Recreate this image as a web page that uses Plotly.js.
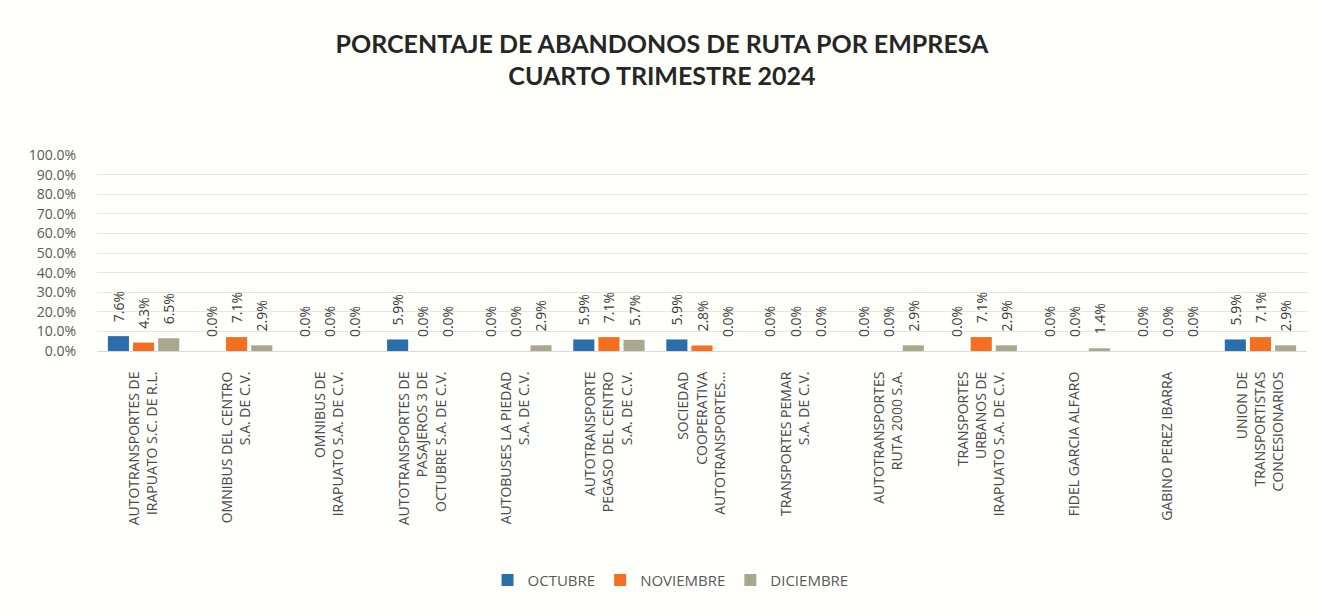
<!DOCTYPE html>
<html>
<head>
<meta charset="utf-8">
<script src="https://cdn.plot.ly/plotly-3.0.1.min.js"></script>
<style>
html,body{margin:0;padding:0;background:#fffffc;}
#chart{width:1324px;height:616px;}
</style>
</head>
<body>
<div id="chart"></div>
<script>
// Categories (companies) and tick labels
const categories = [
  "AUTOTRANSPORTES DE IRAPUATO S.C. DE R.L.",
  "OMNIBUS DEL CENTRO S.A. DE C.V.",
  "OMNIBUS DE IRAPUATO S.A. DE C.V.",
  "AUTOTRANSPORTES DE PASAJEROS 3 DE OCTUBRE S.A. DE C.V.",
  "AUTOBUSES LA PIEDAD S.A. DE C.V.",
  "AUTOTRANSPORTE PEGASO DEL CENTRO S.A. DE C.V.",
  "SOCIEDAD COOPERATIVA AUTOTRANSPORTES...",
  "TRANSPORTES PEMAR S.A. DE C.V.",
  "AUTOTRANSPORTES RUTA 2000 S.A.",
  "TRANSPORTES URBANOS DE IRAPUATO S.A. DE C.V.",
  "FIDEL GARCIA ALFARO",
  "GABINO PEREZ IBARRA",
  "UNION DE TRANSPORTISTAS CONCESIONARIOS"
];
const tickLabels = [
  "AUTOTRANSPORTES DE<br>IRAPUATO S.C. DE R.L.",
  "OMNIBUS DEL CENTRO<br>S.A. DE C.V.",
  "OMNIBUS DE<br>IRAPUATO S.A. DE C.V.",
  "AUTOTRANSPORTES DE<br>PASAJEROS 3 DE<br>OCTUBRE S.A. DE C.V.",
  "AUTOBUSES LA PIEDAD<br>S.A. DE C.V.",
  "AUTOTRANSPORTE<br>PEGASO DEL CENTRO<br>S.A. DE C.V.",
  "SOCIEDAD<br>COOPERATIVA<br>AUTOTRANSPORTES...",
  "TRANSPORTES PEMAR<br>S.A. DE C.V.",
  "AUTOTRANSPORTES<br>RUTA 2000 S.A.",
  "TRANSPORTES<br>URBANOS DE<br>IRAPUATO S.A. DE C.V.",
  "FIDEL GARCIA ALFARO",
  "GABINO PEREZ IBARRA",
  "UNION DE<br>TRANSPORTISTAS<br>CONCESIONARIOS"
];
// Series values (fractions)
const octubre   = [0.076, 0.000, 0.000, 0.059, 0.000, 0.059, 0.059, 0.000, 0.000, 0.000, 0.000, 0.000, 0.059];
const noviembre = [0.043, 0.071, 0.000, 0.000, 0.000, 0.071, 0.028, 0.000, 0.000, 0.071, 0.000, 0.000, 0.071];
const diciembre = [0.065, 0.029, 0.000, 0.000, 0.029, 0.057, 0.000, 0.000, 0.029, 0.029, 0.014, 0.000, 0.029];
const seriesNames = ["OCTUBRE", "NOVIEMBRE", "DICIEMBRE"];
const seriesColors = ["#2c6eab", "#f47020", "#aba68e"];

const font = "Open Sans, DejaVu Sans, sans-serif";
const pad = "\u00a0\u00a0\u00a0";
function mk(vals, i) {
  return {
    type: "bar",
    x: categories,
    y: vals,
    name: seriesNames[i],
    marker: {color: seriesColors[i]},
    texttemplate: pad + "%{y:.1%}",
    textposition: "outside",
    textangle: -90,
    constraintext: "none",
    cliponaxis: false,
    textfont: {family: font, size: 14, color: "#3a3a3a"},
    hoverinfo: "x+y"
  };
}
const data = [mk(octubre, 0), mk(noviembre, 1), mk(diciembre, 2)];

const layout = {
  width: 1324, height: 616,
  paper_bgcolor: "#fffffc",
  plot_bgcolor: "#fffffc",
  margin: {l: 97, r: 17, t: 155, b: 265},
  title: {
    text: "<b>PORCENTAJE DE ABANDONOS DE RUTA POR EMPRESA<br>CUARTO TRIMESTRE 2024</b>",
    font: {family: "Lato, Open Sans, sans-serif", size: 25, color: "#262626"},
    x: 0.5, xanchor: "center", y: 0.914, yanchor: "top"
  },
  barmode: "group",
  bargap: 0.19,
  bargroupgap: 0.16,
  xaxis: {
    type: "category",
    tickmode: "array",
    tickvals: categories,
    ticktext: tickLabels,
    tickangle: -90,
    tickfont: {family: font, size: 14, color: "#4a4a4a"},
    ticklabelstandoff: 14,
    showline: true, linecolor: "#d9d9d9", linewidth: 1,
    ticks: "", showgrid: false,
    automargin: false
  },
  yaxis: {
    range: [0, 1],
    dtick: 0.1,
    tickformat: ".1%",
    tickfont: {family: font, size: 14, color: "#595959"},
    gridcolor: "#e8e6da",
    zeroline: false,
    ticks: "",
    ticklabelstandoff: 20,
    automargin: false
  },
  legend: {
    orientation: "h",
    x: 0.474, xanchor: "center",
    y: -1.17, yanchor: "middle",
    font: {family: font, size: 15, color: "#595959"},
    itemwidth: 30,
    traceorder: "normal"
  },
  showlegend: true
};

Plotly.newPlot("chart", data, layout, {displayModeBar: false, staticPlot: true});
</script>
</body>
</html>
